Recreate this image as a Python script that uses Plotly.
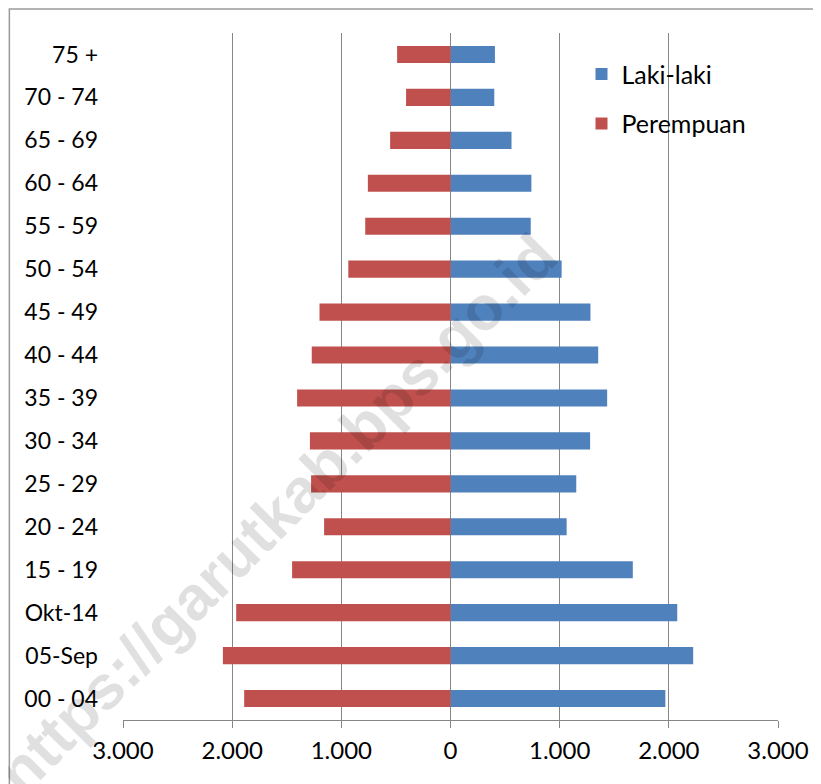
import plotly.graph_objects as go

categories = ["00 - 04", "05-Sep", "Okt-14", "15 - 19", "20 - 24", "25 - 29", "30 - 34",
              "35 - 39", "40 - 44", "45 - 49", "50 - 54", "55 - 59", "60 - 64", "65 - 69",
              "70 - 74", "75 +"]
laki_laki = [1968, 2223, 2077, 1670, 1064, 1152, 1279, 1435, 1353, 1282, 1018, 735, 741, 559, 401, 407]
perempuan = [1890, 2085, 1963, 1451, 1158, 1277, 1288, 1405, 1271, 1200, 936, 781, 757, 553, 407, 489]

tick_vals = [-3000, -2000, -1000, 0, 1000, 2000, 3000]
tick_text = ["3.000", "2.000", "1.000", "0", "1.000", "2.000", "3.000"]

FONT = "Lato"
BLUE = "#4F81BD"
RED = "#C0504D"
GRID = "#878787"

fig = go.Figure()
fig.add_trace(go.Bar(
    y=categories, x=laki_laki, orientation="h", name="Laki-laki",
    marker=dict(color=BLUE, line=dict(width=0)), width=0.4, legend="legend",
    showlegend=True, hoverinfo="x+y+name"))
fig.add_trace(go.Bar(
    y=categories, x=[-v for v in perempuan], orientation="h", name="Perempuan",
    marker=dict(color=RED, line=dict(width=0)), width=0.4, legend="legend2",
    showlegend=True,
    customdata=perempuan, hovertemplate="%{y}: %{customdata}<extra>Perempuan</extra>"))

fig.update_layout(
    width=813, height=776,
    margin=dict(l=115, r=41, t=25, b=64),
    paper_bgcolor="white", plot_bgcolor="white",
    barmode="overlay",
    showlegend=True,
    font=dict(family=FONT, size=23, color="black"),
    legend=dict(x=0.70, y=0.940, xanchor="left", yanchor="middle",
                bgcolor="rgba(0,0,0,0)", font=dict(family=FONT, size=25, color="black")),
    legend2=dict(x=0.70, y=0.868, xanchor="left", yanchor="middle",
                 bgcolor="rgba(0,0,0,0)", font=dict(family=FONT, size=25, color="black")),
    xaxis=dict(
        range=[-3000, 3000], tickvals=tick_vals, ticktext=tick_text,
        showgrid=True, gridcolor=GRID, gridwidth=1.3,
        zeroline=True, zerolinecolor=GRID, zerolinewidth=1.3,
        showline=True, linecolor=GRID, linewidth=1.3,
        ticks="outside", ticklen=7, tickcolor=GRID, tickwidth=1.3,
        ticklabelstandoff=2,
        tickfont=dict(family=FONT, size=24, color="black"), fixedrange=True),
    yaxis=dict(
        categoryorder="array", categoryarray=categories, range=[-0.5, 15.5],
        showgrid=False, zeroline=False, showline=False, ticks="",
        ticklabelstandoff=24,
        tickfont=dict(family=FONT, size=23, color="black"), fixedrange=True),
    shapes=[dict(type="path", xref="paper", yref="paper",
                 path="M -0.1735,-0.2 L -0.1735,1.0350 L 1.2,1.0350",
                 line=dict(color="#9a9a9a", width=1.5), layer="below")],
    annotations=[dict(text="<b>https://garutkab.bps.go.id</b>", xref="paper", yref="paper",
                      x=0.235, y=0.30, xanchor="center", yanchor="middle",
                      textangle=-45, showarrow=False,
                      font=dict(family="Liberation Sans", size=62, color="rgba(0,0,0,0.12)"))],
)

fig.write_html("out.html")
